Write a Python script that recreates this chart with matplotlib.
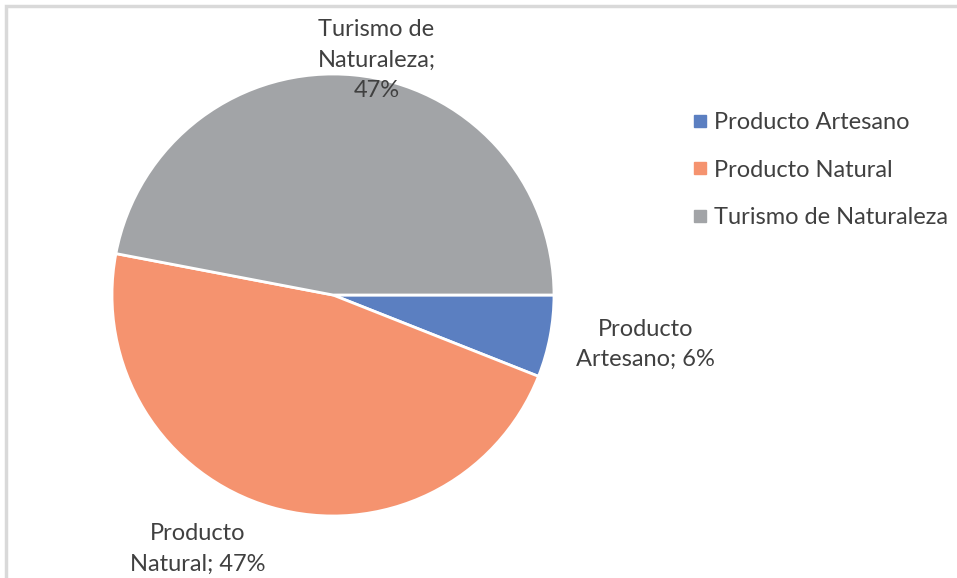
import numpy as np
import matplotlib.pyplot as plt
from matplotlib.patches import Rectangle
from matplotlib.lines import Line2D

plt.rcParams['font.family'] = ['Lato', 'DejaVu Sans']

categories = ['Producto Artesano', 'Producto Natural', 'Turismo de Naturaleza']
values = [6, 47, 47]
labels = ['Producto\nArtesano; 6%', 'Producto\nNatural; 47%', 'Turismo de\nNaturaleza;\n47%']
colors = ['#5B7FC1', '#F5936F', '#A2A4A7']

# label placement (distance in radii, angle in degrees)
label_pos = [(1.43, -9), (1.30, -118), (1.08, 79.5)]

W, H = 957, 578
cx, cy, R = 333, 295, 221

fig = plt.figure(figsize=(W / 100, H / 100), dpi=100)
ax = fig.add_axes([0, 0, 1, 1])
ax.pie(values, colors=colors, startangle=0, counterclock=False, radius=1,
       wedgeprops=dict(edgecolor='white', linewidth=2))
ax.set_xlim(-cx / R, (W - cx) / R)
ax.set_ylim(-(H - cy) / R, cy / R)
ax.set_aspect('auto')
ax.axis('off')

for lab, (d, a) in zip(labels, label_pos):
    t = np.deg2rad(a)
    ax.text(d * np.cos(t), d * np.sin(t), lab, ha='center', va='center',
            fontsize=17, color='#404040', linespacing=1.55)

# chart frame (cut off at right and bottom)
fig.patches.append(Rectangle((6 / W, -0.1), 1.2, 1 - 6 / H + 0.1, transform=fig.transFigure,
                             fill=False, edgecolor='#D9D9D9', linewidth=2.5))

handles = [Line2D([], [], marker='s', linestyle='', markersize=8, color=c) for c in colors]
fig.legend(handles, categories, loc='upper left', bbox_to_anchor=(667 / W, 1 - 91 / H),
           frameon=False, fontsize=17, labelcolor='#404040', handletextpad=0.1,
           labelspacing=1.12, handlelength=1.0)

fig.savefig('out.png', dpi=100)
